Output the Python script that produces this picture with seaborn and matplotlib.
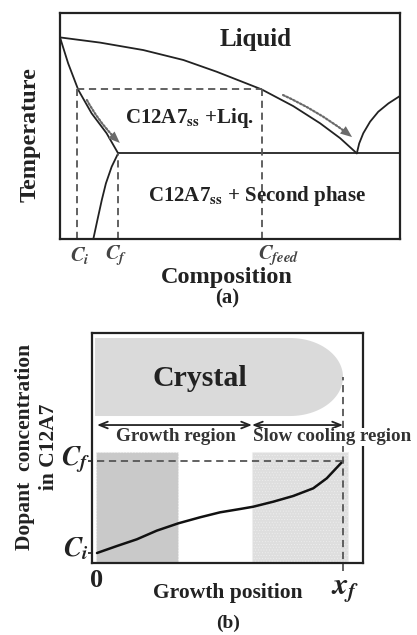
import numpy as np
import pandas as pd
import matplotlib
matplotlib.use("Agg")
import matplotlib.pyplot as plt
import seaborn as sns
from matplotlib.patches import Rectangle, Polygon

sns.set_theme(style="white")
plt.rcParams["font.family"] = ["Liberation Serif", "DejaVu Serif"]
plt.rcParams["font.weight"] = "bold"
plt.rcParams["mathtext.fontset"] = "stix"

# ---------------- (a) phase diagram data (composition, temperature) ----------
liquidus_x = [0.0, 0.118, 0.245, 0.363, 0.461, 0.593, 0.686, 0.765, 0.824, 0.873]
liquidus_y = [0.892, 0.869, 0.836, 0.792, 0.74, 0.662, 0.588, 0.512, 0.446, 0.379]
solidus_x = [0.0, 0.024, 0.054, 0.093, 0.137, 0.171]
solidus_y = [0.892, 0.777, 0.659, 0.556, 0.468, 0.379]
solvus_x = [0.171, 0.152, 0.135, 0.123, 0.11, 0.098]
solvus_y = [0.379, 0.32, 0.246, 0.173, 0.084, 0.0]
right_liq_x = [0.873, 0.88, 0.892, 0.912, 0.936, 0.966, 1.0]
right_liq_y = [0.379, 0.423, 0.468, 0.519, 0.563, 0.6, 0.633]
eutectic_T = 0.379
c_i, c_f, c_feed = 0.05, 0.171, 0.594
t_start = 0.664
comp_labels = [r"$C_i$", r"$C_f$", r"$C_{feed}$"]

# ---------------- (b) dopant profile along the crystal ----------------------
pos = [0.0, 0.081, 0.162, 0.243, 0.331, 0.419, 0.5, 0.581, 0.635, 0.717,
       0.798, 0.879, 0.934, 1.0]
conc = [0.0, 0.076, 0.149, 0.243, 0.323, 0.388, 0.442, 0.478, 0.503, 0.558,
        0.62, 0.703, 0.812, 1.0]
growth_end = 0.63
x_final = 1.0

fig = plt.figure(figsize=(4.17, 6.35), dpi=100)
W, H = 417, 635

INK = "#222222"
LW = 1.3
SP = 1.6
DASH = dict(color="#555555", lw=1.3, ls=(0, (4, 2.6)))

# ======================= panel (a) =======================
axa = fig.add_axes([60 / W, (H - 239) / H, 340 / W, 226 / H])
axa.set_xlim(0, 1)
axa.set_ylim(0, 1)
for s in axa.spines.values():
    s.set_linewidth(SP)
    s.set_color(INK)

for xs, ys in [(liquidus_x, liquidus_y), (solidus_x, solidus_y),
               (solvus_x, solvus_y), (right_liq_x, right_liq_y)]:
    df = pd.DataFrame({"x": xs, "y": ys})
    sns.lineplot(data=df, x="x", y="y", sort=False, color=INK,
                 lw=LW, ax=axa, estimator=None)
axa.plot([c_f, 1.0], [eutectic_T, eutectic_T], color=INK, lw=LW)
axa.set_xlabel("")
axa.set_ylabel("")
axa.set_xticks([])
axa.set_yticks([])

# dashed guide lines
axa.plot([c_i, c_feed], [t_start, t_start], **DASH)
axa.plot([c_i, c_i], [0, t_start], **DASH)
axa.plot([c_f, c_f], [0, eutectic_T], **DASH)
axa.plot([c_feed, c_feed], [0, t_start], **DASH)


# dotted cooling arrows running alongside the liquidus / solidus
def dotted_arrow(ax, p0, p1, rad):
    ax.annotate("", xy=p1, xytext=p0,
                arrowprops=dict(arrowstyle="-", color="#6a6a6a", lw=1.6,
                                ls=(0, (0.8, 0.9)), shrinkA=0, shrinkB=6,
                                connectionstyle=f"arc3,rad={rad}"))
    ax.annotate("", xy=p1, xytext=p0,
                arrowprops=dict(arrowstyle="-|>,head_length=0.7,head_width=0.28",
                                color="#6a6a6a", lw=0, shrinkA=0, shrinkB=0,
                                connectionstyle=f"arc3,rad={rad}"))


dotted_arrow(axa, (0.079, 0.615), (0.176, 0.425), 0.08)
dotted_arrow(axa, (0.656, 0.637), (0.859, 0.451), -0.06)

axa.text(0.574, 0.881, "Liquid", ha="center", va="center", fontsize=18,
         fontweight="bold", color=INK)
axa.text(0.382, 0.535, r"C12A7$_{\mathbf{ss}}$ +Liq.", ha="center",
         va="center", fontsize=15, fontweight="bold", color=INK)
axa.text(0.579, 0.19, r"C12A7$_{\mathbf{ss}}$ + Second phase", ha="center",
         va="center", fontsize=15, fontweight="bold", color=INK)

axa.text(0.059, -0.075, comp_labels[0], ha="center", va="center",
         fontsize=15, color="#444444", clip_on=False)
axa.text(0.165, -0.075, comp_labels[1], ha="center", va="center",
         fontsize=15, color="#444444", clip_on=False)
axa.text(c_feed - 0.012, -0.075, comp_labels[2], ha="left", va="center",
         fontsize=15, color="#444444", clip_on=False)

fig.text(30 / W, 1 - 135 / H, "Temperature", rotation=90, ha="center",
         va="center", fontsize=17.5, fontweight="bold", color=INK)
fig.text(227 / W, 1 - 278 / H, "Composition", ha="center", va="center",
         fontsize=17.5, fontweight="bold", color=INK)
fig.text(227 / W, 1 - 298 / H, "(a)", ha="center", va="center",
         fontsize=15, fontweight="bold", color=INK)

# ======================= panel (b) =======================
axb = fig.add_axes([92 / W, (H - 563) / H, 271 / W, 230 / H])
for s in axb.spines.values():
    s.set_linewidth(SP)
    s.set_color(INK)

y_bot = -10 / 92
y_top_shade = (553 - 452) / 92
axb.add_patch(Rectangle((-0.004, y_bot), 0.333, y_top_shade - y_bot,
                        facecolor="#c9c9c9", edgecolor="#eeeeee", lw=0.8,
                        ls=":", zorder=0))
plt.rcParams["hatch.color"] = "#c8c8c8"
plt.rcParams["hatch.linewidth"] = 0.4
axb.add_patch(Rectangle((growth_end, y_bot), 1.02 - growth_end,
                        y_top_shade - y_bot, facecolor="#dedede",
                        edgecolor="#eeeeee", lw=0.8, ls=":", zorder=0,
                        hatch="......"))

# crystal body: straight sides with a rounded growth front
cx0, cx_round, y_lo, y_hi = -0.008, 0.785, 1.489, 2.337
ry = (y_hi - y_lo) / 2
yc = (y_hi + y_lo) / 2
rx = 0.215
t = np.linspace(np.pi / 2, -np.pi / 2, 60)
front = np.column_stack([cx_round + rx * np.cos(t), yc + ry * np.sin(t)])
body = np.vstack([[cx0, y_hi], front, [cx0, y_lo]])
axb.add_patch(Polygon(body, closed=True, facecolor="#dadada",
                      edgecolor="none", hatch="+++++", zorder=0))
axb.text(0.419, 1.902, "Crystal", ha="center", va="center", fontsize=21.5,
         fontweight="bold", color=INK)

df_b = pd.DataFrame({"pos": pos, "conc": conc})
sns.lineplot(data=df_b, x="pos", y="conc", color="#111111", lw=1.8, ax=axb,
             estimator=None)
axb.set_xlabel("")
axb.set_ylabel("")
axb.set_xlim(-5 / 246, 266 / 246)
axb.set_ylim(-10 / 92, 220 / 92)
axb.set_xticks([])
axb.set_yticks([0, 1])
axb.set_yticklabels([])
axb.tick_params(axis="y", direction="out", length=3, width=1.2, color=INK,
                left=True)

axb.plot([0, x_final], [1.0, 1.0], **DASH)
axb.plot([x_final, x_final], [-0.2, 1.913], clip_on=False, **DASH)

arr = dict(arrowstyle="<->,head_length=0.5,head_width=0.2", color=INK,
           lw=1.3, shrinkA=0, shrinkB=0)
axb.annotate("", xy=(0.0, 1.391), xytext=(growth_end, 1.391), arrowprops=arr)
axb.annotate("", xy=(growth_end, 1.391), xytext=(x_final, 1.391),
             arrowprops=arr)
axb.text(0.321, 1.261, "Growth region", ha="center", va="center",
         fontsize=13.8, fontweight="bold", color="#333333")
axb.text(0.954, 1.261, "Slow cooling region", ha="center", va="center",
         fontsize=13.7, fontweight="bold", color="#333333", clip_on=False,
         zorder=5, bbox=dict(facecolor="white", edgecolor="none", pad=0.5))

axb.text(-0.085, 1.01, r"$C_f$", ha="center", va="center", fontsize=20,
         color=INK, clip_on=False)
axb.text(-0.085, 0.05, r"$C_i$", ha="center", va="center", fontsize=20,
         color=INK, clip_on=False)
axb.text(0.0, -0.30, "0", ha="center", va="center", fontsize=19,
         fontweight="bold", color=INK, clip_on=False)
axb.text(1.01, -0.40, r"$x_f$", ha="center", va="center", fontsize=22,
         color=INK, clip_on=False)

fig.text(228 / W, 1 - 593 / H, "Growth position", ha="center", va="center",
         fontsize=15.5, fontweight="bold", color=INK)
fig.text(228 / W, 1 - 623 / H, "(b)", ha="center", va="center",
         fontsize=14, fontweight="bold", color=INK)
fig.text(37 / W, 1 - 447 / H, "Dopant  concentration\nin C12A7",
         rotation=90, ha="center", va="center", fontsize=15.5,
         fontweight="bold", color=INK, linespacing=1.2,
         multialignment="center")

fig.savefig("out.png", dpi=100, facecolor="white")
